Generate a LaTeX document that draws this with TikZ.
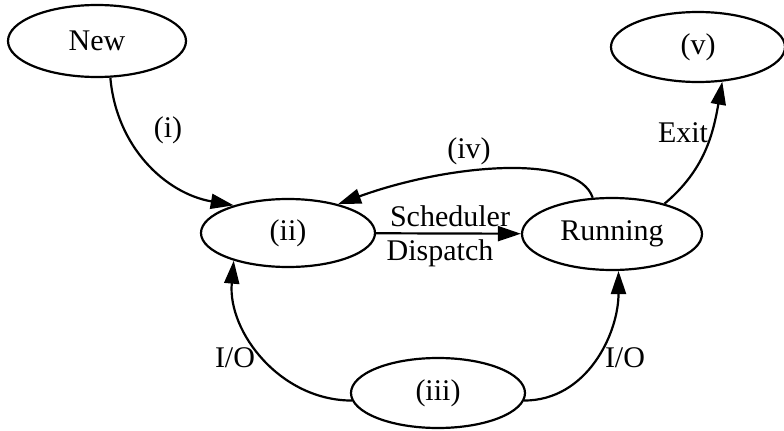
\documentclass[tikz,border=0pt]{standalone}
\usepackage{fontspec}
\setmainfont{Liberation Serif}
\usepackage{tikz}
\usetikzlibrary{shapes.geometric}
\usetikzlibrary{arrows.meta}
\tikzstyle{every node}=[font=\fontsize{15}{18}\selectfont]
\tikzstyle{proc}=[draw, ellipse, line width=1.1pt, minimum width=87pt, minimum height=35pt, inner sep=0pt]
\tikzstyle{link}=[line width=1.1pt, -{Triangle[length=11.5pt,width=7.5pt]}]

\begin{document}
\begin{tikzpicture}[x=0.5pt, y=0.5pt]
    \useasboundingbox (0,0) rectangle (784,430);

    \node[proc, minimum width=89pt, minimum height=36pt] (new) at (97,389) {New};
    \node[proc] (done) at (698,383) {(v)};
    \node[proc, minimum height=34pt] (ready) at (288,197) {(ii)};
    \node[proc, minimum width=90pt, minimum height=36pt] (run) at (612,196) {Running};
    \node[proc] (wait) at (438,37) {(iii)};

    \draw[link] (new.-70) to[out=-85, in=170] (ready.153);
    \draw[link] (run.118) .. controls +(-15,45) and +(110,40) .. (ready.30);
    \draw[link] (ready) -- (run);
    \draw[link] (run.30) to[out=40, in=-100] (done.-55);
    \draw[link] (wait.185) to[out=180, in=-95] (ready.207);
    \draw[link] (wait.-5) to[out=0, in=-90] (run.-80);

    \node (li) at (168,300) {(i)};
    \node (liv) at (469,279) {(iv)};
    \node (lsched) at (450,214) {Scheduler};
    \node (ldisp) at (440,177) {Dispatch};
    \node (lexit) at (683,297) {Exit};
    \node (lioa) at (235,72) {I/O};
    \node (liob) at (625,72) {I/O};
\end{tikzpicture}
\end{document}
